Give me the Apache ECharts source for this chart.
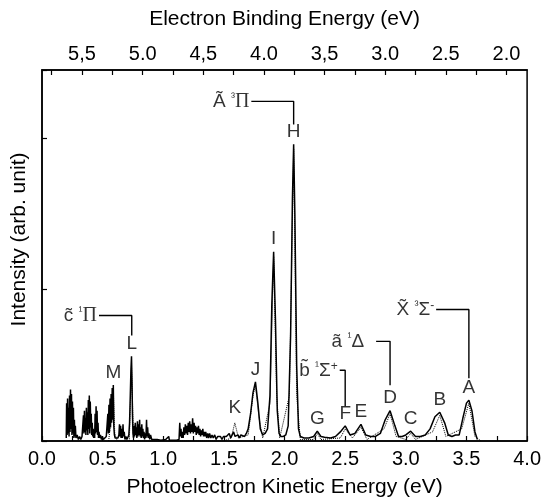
<!DOCTYPE html>
<html>
<head>
<meta charset="utf-8">
<script src="https://cdn.jsdelivr.net/npm/echarts@6/dist/echarts.min.js"></script>
<style>
  html, body { margin: 0; background: #fff; }
  #main { width: 544px; height: 503px; }
</style>
</head>
<body>
<div id="main"></div>
<script>
// photon energy (eV): binding energy = hv - kinetic energy
const hv = 5.83;

// bottom / top tick values
const keTicks = [0, 0.5, 1.0, 1.5, 2.0, 2.5, 3.0, 3.5, 4.0];
const beLabels = [5.5, 5.0, 4.5, 4.0, 3.5, 3.0, 2.5, 2.0];
const beTicks = [5.75, 5.5, 5.25, 5.0, 4.75, 4.5, 4.25, 4.0, 3.75, 3.5, 3.25, 3.0, 2.75, 2.5, 2.25, 2.0];

// measured spectrum, [kinetic energy, intensity]
const lowNoise = [
  [0.200, 0.02], [0.203, 0.25], [0.207, 0.04], [0.211, 0.28], [0.215, 0.05], [0.219, 0.22],
  [0.223, 0.03], [0.227, 0.30], [0.231, 0.06], [0.235, 0.34], [0.239, 0.08], [0.243, 0.31],
  [0.247, 0.04], [0.251, 0.26], [0.255, 0.05], [0.259, 0.22], [0.263, 0.02], [0.267, 0.14],
  [0.271, 0.03], [0.275, 0.10], [0.280, 0.02], [0.290, 0.04], [0.300, 0.01], [0.310, 0.03],
  [0.320, 0.01], [0.330, 0.03], [0.338, 0.02], [0.342, 0.17], [0.346, 0.05], [0.350, 0.20],
  [0.354, 0.06], [0.358, 0.15], [0.362, 0.04], [0.366, 0.22], [0.370, 0.07], [0.374, 0.19],
  [0.378, 0.04], [0.382, 0.27], [0.386, 0.08], [0.390, 0.30], [0.394, 0.05], [0.398, 0.26],
  [0.402, 0.09], [0.406, 0.18], [0.410, 0.04], [0.414, 0.12], [0.418, 0.03], [0.422, 0.08],
  [0.426, 0.02], [0.430, 0.05], [0.434, 0.02], [0.438, 0.18], [0.442, 0.05], [0.446, 0.23],
  [0.450, 0.06], [0.454, 0.20], [0.458, 0.04], [0.462, 0.12], [0.466, 0.02], [0.470, 0.06],
  [0.476, 0.02], [0.482, 0.04], [0.490, 0.01], [0.498, 0.03], [0.506, 0.01], [0.514, 0.02],
  [0.522, 0.01], [0.530, 0.03], [0.538, 0.02], [0.543, 0.18], [0.547, 0.05], [0.552, 0.24],
  [0.556, 0.06], [0.561, 0.28], [0.565, 0.09], [0.570, 0.31], [0.574, 0.12], [0.579, 0.35],
  [0.583, 0.14], [0.588, 0.37], [0.592, 0.10], [0.597, 0.04], [0.603, 0.02], [0.610, 0.03],
  [0.618, 0.01], [0.626, 0.02], [0.634, 0.04], [0.639, 0.11], [0.643, 0.03], [0.648, 0.10],
  [0.652, 0.02], [0.658, 0.08], [0.663, 0.02], [0.668, 0.11], [0.672, 0.03], [0.678, 0.06],
  [0.684, 0.01], [0.692, 0.03], [0.700, 0.01], [0.708, 0.02], [0.716, 0.04], [0.722, 0.12],
  [0.728, 0.30], [0.733, 0.46], [0.738, 0.56], [0.742, 0.40], [0.746, 0.18], [0.750, 0.05],
  [0.755, 0.02], [0.760, 0.10], [0.764, 0.03], [0.769, 0.12], [0.773, 0.04], [0.778, 0.09],
  [0.782, 0.02], [0.787, 0.13], [0.791, 0.03], [0.796, 0.11], [0.800, 0.04], [0.805, 0.14],
  [0.809, 0.03], [0.814, 0.09], [0.818, 0.02], [0.823, 0.11], [0.827, 0.03], [0.832, 0.08],
  [0.836, 0.02], [0.841, 0.06], [0.846, 0.01], [0.852, 0.05], [0.857, 0.02], [0.862, 0.14],
  [0.866, 0.03], [0.871, 0.09], [0.876, 0.02], [0.882, 0.05], [0.888, 0.01], [0.895, 0.04],
  [0.905, 0.01], [0.915, 0.02], [0.930, 0.01], [0.950, 0.01], [0.980, 0.005], [1.020, 0.01],
  [1.045, 0.03], [1.050, 0.005], [1.080, 0.005], [1.110, 0.005]
];
const midNoise = [
  [1.130, 0.01], [1.136, 0.12], [1.141, 0.03], [1.146, 0.08], [1.152, 0.02], [1.158, 0.06],
  [1.164, 0.02], [1.170, 0.09], [1.176, 0.04], [1.182, 0.11], [1.188, 0.05], [1.194, 0.10],
  [1.200, 0.04], [1.206, 0.12], [1.212, 0.06], [1.218, 0.13], [1.224, 0.05], [1.230, 0.11],
  [1.236, 0.06], [1.242, 0.15], [1.248, 0.05], [1.254, 0.12], [1.260, 0.06], [1.266, 0.10],
  [1.272, 0.04], [1.278, 0.09], [1.284, 0.05], [1.290, 0.10], [1.296, 0.04], [1.302, 0.08],
  [1.308, 0.03], [1.314, 0.07], [1.320, 0.04], [1.326, 0.08], [1.332, 0.03], [1.338, 0.06],
  [1.344, 0.03], [1.350, 0.06], [1.358, 0.02], [1.366, 0.05], [1.374, 0.02], [1.382, 0.05],
  [1.392, 0.02], [1.402, 0.04], [1.412, 0.02], [1.424, 0.04], [1.436, 0.01], [1.448, 0.03],
  [1.460, 0.02], [1.472, 0.03], [1.484, 0.01], [1.496, 0.03], [1.508, 0.02], [1.520, 0.03],
  [1.532, 0.02], [1.544, 0.05], [1.556, 0.02], [1.568, 0.04], [1.580, 0.06], [1.592, 0.03],
  [1.604, 0.02], [1.616, 0.04], [1.628, 0.02], [1.640, 0.04], [1.655, 0.05], [1.670, 0.03],
  [1.685, 0.05]
];
const strongPeaks = [
  [1.700, 0.08], [1.720, 0.18], [1.740, 0.32], [1.760, 0.39], [1.780, 0.25], [1.800, 0.08],
  [1.820, 0.04], [1.840, 0.05], [1.860, 0.08], [1.880, 0.30], [1.895, 0.90], [1.910, 1.25],
  [1.925, 0.80], [1.940, 0.20], [1.955, 0.05], [1.970, 0.03], [1.990, 0.03], [2.010, 0.04],
  [2.030, 0.10], [2.050, 0.70], [2.065, 1.60], [2.075, 1.96], [2.085, 1.50], [2.100, 0.50],
  [2.115, 0.08], [2.130, 0.03]
];
const weakPeaks = [
  [2.160, 0.02], [2.200, 0.02], [2.240, 0.03], [2.270, 0.065], [2.300, 0.03], [2.330, 0.025],
  [2.380, 0.02], [2.420, 0.03], [2.460, 0.06], [2.500, 0.10], [2.540, 0.04], [2.580, 0.05],
  [2.630, 0.11], [2.670, 0.04], [2.710, 0.03], [2.750, 0.03], [2.790, 0.05], [2.830, 0.14],
  [2.870, 0.20], [2.910, 0.10], [2.940, 0.03], [2.970, 0.03], [3.000, 0.04], [3.040, 0.065],
  [3.080, 0.03], [3.120, 0.03], [3.160, 0.04], [3.200, 0.08], [3.240, 0.16], [3.280, 0.19],
  [3.320, 0.12], [3.350, 0.04], [3.380, 0.03], [3.410, 0.04], [3.440, 0.04], [3.470, 0.15],
  [3.500, 0.25], [3.520, 0.27], [3.545, 0.20], [3.570, 0.06], [3.590, 0.01]
];

// simulated spectrum (dotted)
const simulated = [
  [0.550, 0], [0.575, 0.20], [0.588, 0.34], [0.600, 0.05], [0.620, 0], [0.720, 0],
  [0.738, 0.50], [0.755, 0], [1.500, 0], [1.560, 0.02], [1.590, 0.12], [1.620, 0.02],
  [1.700, 0.04], [1.740, 0.30], [1.760, 0.37], [1.790, 0.15], [1.820, 0.02], [1.880, 0.25],
  [1.910, 1.22], [1.935, 0.30], [1.960, 0.02], [2.040, 0.30], [2.075, 1.93], [2.100, 0.30],
  [2.130, 0.01], [2.240, 0.01], [2.270, 0.05], [2.300, 0.01], [2.460, 0.02], [2.500, 0.08],
  [2.560, 0.02], [2.630, 0.09], [2.680, 0.01], [2.820, 0.08], [2.870, 0.18], [2.920, 0.03],
  [3.000, 0.01], [3.040, 0.05], [3.080, 0.01], [3.220, 0.06], [3.280, 0.17], [3.330, 0.03],
  [3.460, 0.08], [3.520, 0.25], [3.570, 0.03], [3.620, 0]
];

// peak letters
const peakNames = ['A', 'B', 'C', 'D', 'E', 'F', 'G', 'H', 'I', 'J', 'K', 'L', 'M'];
const peakKE = [3.52, 3.28, 3.04, 2.87, 2.63, 2.50, 2.27, 2.075, 1.91, 1.76, 1.59, 0.74, 0.588];
const peakTop = [0.27, 0.19, 0.065, 0.20, 0.11, 0.10, 0.065, 1.96, 1.25, 0.39, 0.14, 0.56, 0.37];

// electronic states: label, peak they point to, bracket height, bracket start
const states = [
  { text: '{t|Ã} {s|³}{g|Π}', peak: 'H', level: 2.243, from: 1.726, drop: 2.09 },
  { text: '{t|c̃} {s|¹}{g|Π}', peak: 'L', level: 0.829, from: 0.47, drop: 0.697 },
  { text: '{t|b̃} {s|¹}Σ{s|+}', peak: 'F', level: 0.467, from: 2.455, drop: 0.23 },
  { text: '{t|ã} {s|¹}Δ', peak: 'D', level: 0.658, from: 2.755, drop: 0.368, gap: 12 },
  { text: '{t|X̃} {s|³}Σ{s|-}', peak: 'A', level: 0.868, from: 3.25, drop: 0.414 }
];

const FONT = "'Liberation Sans', Arial, sans-serif";
const chart = echarts.init(document.getElementById('main'));

const bracketSeries = states.map(function (s) {
  const x = peakKE[peakNames.indexOf(s.peak)];
  return {
    type: 'line', xAxisIndex: 0, yAxisIndex: 0, showSymbol: false, silent: true,
    lineStyle: { color: '#000', width: 1.4 },
    data: [[s.from, s.level], [x, s.level], [x, s.drop]],
    z: 4
  };
});

const richText = {
  t: { fontSize: 19, fontFamily: FONT, color: '#000' },
  s: { fontSize: 12, fontFamily: FONT, color: '#000', verticalAlign: 'top', padding: [0, 0, 8, 0] },
  g: { fontSize: 20, fontFamily: "'Liberation Serif', serif", color: '#000' }
};

chart.setOption({
  animation: false,
  textStyle: { fontFamily: FONT },
  grid: { left: 42, right: 9, top: 70, bottom: 60, show: true, borderColor: '#000', borderWidth: 1.5 },
  xAxis: [
    {
      type: 'value', position: 'bottom', min: 0, max: 4, interval: 0.25,
      axisLine: { lineStyle: { color: '#000', width: 1.5 } },
      axisTick: { inside: true, length: 5, lineStyle: { color: '#000', width: 1.2 } },
      axisLabel: {
        color: '#000', fontSize: 20, margin: 8,
        formatter: function (v) { return keTicks.some(t => Math.abs(t - v) < 1e-6) ? v.toFixed(1) : ''; }
      },
      splitLine: { show: false },
      name: 'Photoelectron Kinetic Energy (eV)', nameLocation: 'middle', nameGap: 36,
      nameTextStyle: { color: '#000', fontSize: 21 }
    },
    {
      type: 'value', position: 'top', min: 0, max: 4,
      axisLine: { lineStyle: { color: '#000', width: 1.5 } },
      axisTick: { inside: true, length: 5, customValues: beTicks.map(b => hv - b), lineStyle: { color: '#000', width: 1.2 } },
      axisLabel: {
        color: '#000', fontSize: 20, margin: 6,
        customValues: beLabels.map(b => hv - b),
        formatter: function (v) {
          const s = (hv - v).toFixed(1);
          return s.endsWith('.5') && s !== '2.5' ? s.replace('.', ',') : s;
        }
      },
      splitLine: { show: false },
      name: 'Electron Binding Energy (eV)', nameLocation: 'middle', nameGap: 40,
      nameTextStyle: { color: '#000', fontSize: 21 }
    }
  ],
  yAxis: {
    type: 'value', min: 0, max: 2.45, interval: 1,
    axisLine: { lineStyle: { color: '#000', width: 1.5 } },
    axisTick: { inside: true, length: 5, lineStyle: { color: '#000', width: 1.2 } },
    axisLabel: { show: false },
    splitLine: { show: false },
    name: 'Intensity (arb. unit)', nameLocation: 'middle', nameGap: 12,
    nameTextStyle: { color: '#000', fontSize: 21, padding: [0, 0, 0, 32] }
  },
  series: [
    {
      type: 'line', name: 'simulated', showSymbol: false, silent: true,
      lineStyle: { color: '#000', width: 1, type: 'dotted' },
      data: simulated, z: 2
    },
    {
      type: 'line', name: 'measured', showSymbol: false, silent: true,
      lineStyle: { color: '#000', width: 1.5 },
      data: [].concat(lowNoise, midNoise, strongPeaks, weakPeaks), z: 3
    },
    {
      type: 'scatter', symbolSize: 0, silent: true,
      data: peakNames.map((n, i) => ({ name: n, value: [peakKE[i], peakTop[i]] })),
      label: { show: true, position: 'top', distance: 3, formatter: '{b}', color: '#000', fontSize: 19, fontFamily: FONT },
      z: 5
    },
    {
      type: 'scatter', symbolSize: 0, silent: true,
      data: states.map(s => ({ value: [s.from, s.level], label: { distance: s.gap || 2 } })),
      label: {
        show: true, position: 'left',
        formatter: function (p) { return states[p.dataIndex].text; },
        rich: richText, color: '#000', fontSize: 19, fontFamily: FONT
      },
      z: 5
    }
  ].concat(bracketSeries)
});
</script>
</body>
</html>
